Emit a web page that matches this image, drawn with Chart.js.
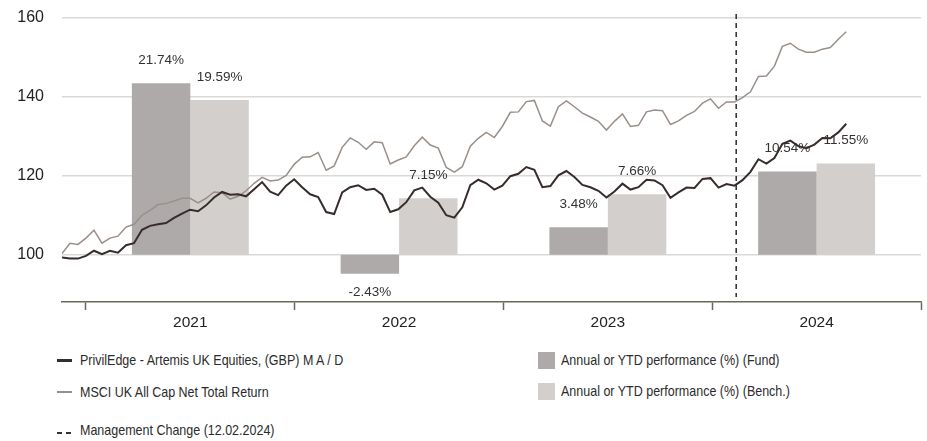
<!DOCTYPE html>
<html>
<head>
<meta charset="utf-8">
<script src="https://cdn.jsdelivr.net/npm/chart.js@4.4.1/dist/chart.umd.min.js"></script>
<style>
  html, body { margin: 0; padding: 0; background: #fff; }
  #wrap { position: relative; width: 927px; height: 441px; overflow: hidden; }
  #chart { position: absolute; left: 0; top: 0; }
  .lg { position: absolute; font-family: "Liberation Sans", Arial, sans-serif;
        font-size: 15px; color: #2b2b2b; white-space: nowrap; line-height: 18px;
        transform: scaleX(0.833); transform-origin: 0 50%; }
  .sw { position: absolute; }
</style>
</head>
<body>
<div id="wrap">
  <canvas id="chart" width="927" height="340"></canvas>

  <div class="sw" style="left:57px; top:359px; width:15px; height:3px; background:#362c2a;"></div>
  <div class="lg" style="left:80px; top:351px;">PrivilEdge - Artemis UK Equities, (GBP) M A / D</div>

  <div class="sw" style="left:57px; top:391px; width:15px; height:2px; background:#9a8f89;"></div>
  <div class="lg" style="left:80px; top:383px;">MSCI UK All Cap Net Total Return</div>

  <div class="sw" style="left:57px; top:432px; width:14px; height:2px; background:repeating-linear-gradient(to right, #333 0 5px, transparent 5px 9px);"></div>
  <div class="lg" style="left:80px; top:421px;">Management Change (12.02.2024)</div>

  <div class="sw" style="left:538px; top:352px; width:17px; height:17px; background:#aeaaa9;"></div>
  <div class="lg" style="left:561px; top:351px;">Annual or YTD performance (%) (Fund)</div>

  <div class="sw" style="left:538px; top:383px; width:17px; height:17px; background:#d3cfcc;"></div>
  <div class="lg" style="left:561px; top:382px;">Annual or YTD performance (%) (Bench.)</div>
</div>

<script>
// line series: one value every two weeks from the start date
var startDate = '2020-11-20';
var stepDays = 14;

var fundValues = [99.3, 99.0, 99.0, 99.7, 101.0, 100.1, 101.0, 100.5, 102.4, 102.9,
  106.3, 107.3, 107.7, 108.0, 109.3, 110.4, 111.4, 111.0, 112.5, 114.5,
  115.9, 115.2, 115.3, 114.8, 116.6, 118.4, 116.0, 115.1, 117.5, 119.1,
  117.1, 115.3, 114.6, 110.8, 110.3, 115.8, 117.1, 117.6, 116.4, 116.7,
  115.2, 110.8, 111.5, 113.3, 116.3, 117.0, 114.7, 113.2, 110.0, 109.4,
  112.0, 117.6, 119.0, 118.1, 116.5, 117.5, 119.9, 120.5, 122.2, 121.5,
  117.1, 117.4, 120.1, 121.2, 119.7, 117.7, 117.1, 116.2, 114.5, 116.0,
  118.0, 116.5, 117.1, 119.0, 118.8, 117.6, 114.4, 115.8, 117.0, 116.9,
  119.2, 119.4, 117.0, 117.9, 117.5, 118.9, 121.0, 124.2, 123.1, 124.5,
  128.1, 128.9, 127.5, 127.0, 127.9, 129.6, 129.5, 131.0, 133.2];

var benchValues = [100.3, 102.9, 102.6, 104.2, 106.2, 102.9, 104.2, 104.7, 107.0, 107.7,
  110.0, 111.2, 112.7, 113.0, 113.6, 114.3, 114.3, 113.1, 114.3, 115.9,
  115.7, 114.1, 114.8, 116.2, 118.1, 119.6, 118.7, 118.9, 120.1, 122.9,
  124.7, 124.8, 125.9, 121.4, 122.5, 127.2, 129.6, 128.5, 126.7, 128.6,
  128.4, 123.0, 124.0, 124.8, 127.6, 129.8, 127.8, 127.0, 122.1, 120.9,
  122.3, 127.5, 129.5, 131.0, 129.7, 132.5, 136.1, 136.2, 138.8, 139.1,
  133.9, 132.6, 137.5, 139.0, 137.5, 135.9, 134.9, 133.8, 131.6, 133.8,
  135.7, 132.5, 132.8, 136.2, 136.7, 136.5, 133.0, 133.9, 135.3, 136.3,
  138.4, 139.5, 137.1, 138.7, 138.7, 139.8, 141.3, 145.2, 145.3, 147.8,
  152.8, 153.6, 152.1, 151.3, 151.3, 152.1, 152.5, 154.6, 156.5];

// annual bars
var barYears = ['2021', '2022', '2023', '2024'];
var fundAnnual = [21.74, -2.43, 3.48, 10.54];
var benchAnnual = [19.59, 7.15, 7.66, 11.55];

var yTicks = [100, 120, 140, 160];
var yMin = 88, yMax = 160;
var changeDate = '2024-02-12';
var axisEnd = 2025;

function toYear(s) {
  var d = new Date(s + 'T00:00:00Z');
  var y = d.getUTCFullYear();
  var a = Date.UTC(y, 0, 1), b = Date.UTC(y + 1, 0, 1);
  return y + (d.getTime() - a) / (b - a);
}
function addDays(s, n) {
  var d = new Date(s + 'T00:00:00Z');
  d.setUTCDate(d.getUTCDate() + n);
  return d.toISOString().slice(0, 10);
}

var xMin = toYear(startDate);
var dates = fundValues.map(function (v, i) { return addDays(startDate, i * stepDays); });

function linePoints(vals) {
  return vals.map(function (v, i) { return { x: toYear(dates[i]), y: v }; });
}
function barPoints(vals) {
  return vals.map(function (v, i) { return { x: Number(barYears[i]) + 0.5, y: v }; });
}

// bar labels, drawn right after the bars so the lines pass over them
var barLabels = {
  id: 'barLabels',
  afterDatasetDraw: function (chart, args) {
    var ds = chart.data.datasets[args.index];
    if (ds.type !== 'bar') return;
    var ctx = chart.ctx;
    ctx.save();
    ctx.font = '13.5px "Liberation Sans", Arial, sans-serif';
    ctx.fillStyle = '#333';
    ctx.textAlign = 'center';
    ctx.textBaseline = 'middle';
    args.meta.data.forEach(function (el, i) {
      var v = ds.data[i].y;
      var txt = v.toFixed(2) + '%';
      if (v >= 0) ctx.fillText(txt, el.x, el.y - 23);
      else ctx.fillText(txt, el.x, el.y + 18);
    });
    ctx.restore();
  }
};

var changeLine = {
  id: 'changeLine',
  afterDatasetsDraw: function (chart) {
    var x = chart.scales.x.getPixelForValue(toYear(changeDate));
    var a = chart.chartArea;
    var ctx = chart.ctx;
    ctx.save();
    ctx.strokeStyle = '#2b2b2b';
    ctx.lineWidth = 1.5;
    ctx.setLineDash([5, 4]);
    ctx.beginPath();
    ctx.moveTo(x, a.top - 4);
    ctx.lineTo(x, a.bottom - 5);
    ctx.stroke();
    ctx.restore();
  }
};

Chart.defaults.font.family = '"Liberation Sans", Arial, sans-serif';
Chart.defaults.color = '#222';

var ctx = document.getElementById('chart').getContext('2d');
var myChart = new Chart(ctx, {
  type: 'bar',
  data: {
    datasets: [
      {
        type: 'line',
        label: 'PrivilEdge - Artemis UK Equities, (GBP) M A / D',
        data: linePoints(fundValues),
        borderColor: '#362c2a',
        borderWidth: 2,
        pointRadius: 0,
        tension: 0,
        xAxisID: 'x', yAxisID: 'y',
        order: 1
      },
      {
        type: 'line',
        label: 'MSCI UK All Cap Net Total Return',
        data: linePoints(benchValues),
        borderColor: '#9a8f89',
        borderWidth: 1.5,
        pointRadius: 0,
        tension: 0,
        xAxisID: 'x', yAxisID: 'y',
        order: 2
      },
      {
        type: 'bar',
        label: 'Annual or YTD performance (%) (Fund)',
        data: barPoints(fundAnnual),
        backgroundColor: '#aeaaa9',
        categoryPercentage: 1.12,
        barPercentage: 1,
        xAxisID: 'xb', yAxisID: 'y2',
        order: 3
      },
      {
        type: 'bar',
        label: 'Annual or YTD performance (%) (Bench.)',
        data: barPoints(benchAnnual),
        backgroundColor: '#d3cfcc',
        categoryPercentage: 1.12,
        barPercentage: 1,
        xAxisID: 'xb', yAxisID: 'y2',
        order: 3
      }
    ]
  },
  options: {
    responsive: false,
    animation: false,
    devicePixelRatio: 1,
    layout: { padding: { top: 18, right: 6, left: 0, bottom: 0 } },
    plugins: { legend: { display: false }, tooltip: { enabled: false } },
    scales: {
      x: {
        type: 'linear',
        offset: false,
        min: xMin, max: axisEnd,
        afterBuildTicks: function (s) {
          var t = [];
          for (var y = 2021; y <= axisEnd; y += 0.5) t.push({ value: y });
          s.ticks = t;
        },
        afterFit: function (s) { s.height = 38; },
        ticks: {
          autoSkip: false, maxRotation: 0, padding: 3,
          font: { size: 15.5 }, color: '#222',
          callback: function (v) { return (v % 1 !== 0) ? String(Math.floor(v)) : ''; }
        },
        grid: {
          offset: false,
          drawOnChartArea: false, drawTicks: true, tickLength: 8, tickWidth: 1.5,
          tickColor: function (c) { return (c.tick && c.tick.value % 1 === 0) ? '#676a58' : 'rgba(0,0,0,0)'; }
        },
        border: { display: true, color: '#676a58', width: 1.5 }
      },
      xb: {
        type: 'linear', display: false,
        offset: false,
        grid: { offset: false },
        min: xMin, max: axisEnd,
        afterBuildTicks: function (s) {
          s.ticks = barYears.map(function (y) { return { value: Number(y) + 0.5 }; });
        }
      },
      y: {
        min: yMin, max: yMax,
        afterBuildTicks: function (s) { s.ticks = yTicks.map(function (v) { return { value: v }; }); },
        afterFit: function (s) { s.width = 62; s.paddingTop = 0; s.paddingBottom = 0; },
        ticks: { padding: 18, font: { size: 16 }, color: '#222' },
        grid: { color: '#d9d9d9', lineWidth: 1.5, drawTicks: false },
        border: { display: false }
      },
      y2: {
        display: false,
        min: (yMin - 100) / 2, max: (yMax - 100) / 2
      }
    }
  },
  plugins: [barLabels, changeLine]
});
</script>
</body>
</html>
